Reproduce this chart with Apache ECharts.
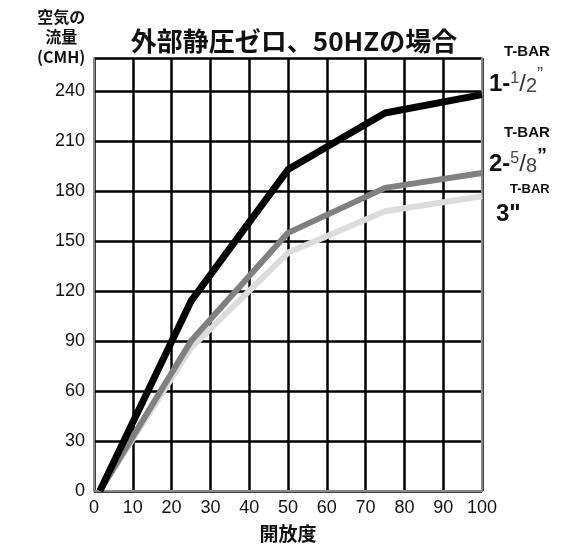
<!DOCTYPE html>
<html>
<head>
<meta charset="utf-8">
<script src="https://cdn.jsdelivr.net/npm/echarts@6/dist/echarts.min.js"></script>
<style>
  html, body { margin: 0; padding: 0; background: #fff; }
  #chart { width: 566px; height: 548px; }
</style>
</head>
<body>
<div id="chart"></div>
<script>
// 開放度 (%)
const openings = [1.5, 25, 50, 75, 100];
// 空気の流量 (CMH)
const flow1 = [0, 114, 193, 227, 238]; // T-BAR 1-1/2"
const flow2 = [0, 90, 155, 182, 191];  // T-BAR 2-5/8"
const flow3 = [0, 86, 143, 168, 177];  // T-BAR 3"
const xTicks = [0, 10, 20, 30, 40, 50, 60, 70, 80, 90, 100];
const yTicks = [0, 30, 60, 90, 120, 150, 180, 210, 240];

const font = "'Liberation Sans', Arial, 'Noto Sans CJK JP', sans-serif";
const cjk = "'Noto Sans CJK JP', 'Liberation Sans', sans-serif";

const pair = (xs, ys) => xs.map((x, i) => [x, ys[i]]);

const myChart = echarts.init(document.getElementById("chart"));
myChart.setOption({
  animation: false,
  title: {
    text: "外部静圧ゼロ、50HZの場合",
    left: 289,
    textAlign: "center",
    top: 23,
    textStyle: { fontFamily: cjk, fontSize: 26, fontWeight: "bold", color: "#111" },
  },
  grid: { left: 94, right: 84, top: 58, bottom: 57, outerBoundsMode: "none", containLabel: false },
  xAxis: {
    type: "value",
    min: 0,
    max: 100,
    interval: 10,
    name: "開放度",
    nameLocation: "middle",
    nameGap: 33,
    nameTextStyle: { fontFamily: cjk, fontSize: 19, fontWeight: "bold", color: "#111" },
    axisLine: { lineStyle: { color: "#888", width: 2 } },
    axisTick: { show: false },
    axisLabel: {
      margin: 8,
      fontFamily: font,
      fontSize: 18,
      color: "#111",
      formatter: (v) => (xTicks.includes(v) ? String(v) : ""),
    },
    splitLine: { lineStyle: { color: "#000", width: 2.5 } },
  },
  yAxis: [
    {
      type: "value",
      min: 0,
      max: 260,
      interval: 30,
      axisLine: { show: true, lineStyle: { color: "#888", width: 2 } },
      axisTick: { show: false },
      axisLabel: {
        margin: 9,
        fontFamily: font,
        fontSize: 18,
        color: "#111",
        formatter: (v) => (yTicks.includes(v) ? String(v) : ""),
      },
      splitLine: { lineStyle: { color: "#000", width: 2.5 } },
    },
    {
      type: "value",
      position: "right",
      min: 0,
      max: 260,
      interval: 30,
      axisLine: { show: true, lineStyle: { color: "#888", width: 2 } },
      axisTick: { show: false },
      axisLabel: { show: false },
      splitLine: { show: false },
    },
  ],
  graphic: [
    {
      type: "text",
      left: 37,
      top: 7,
      style: {
        text: "空気の\n流量\n(CMH)",
        textAlign: "center",
        font: "bold 16px " + cjk,
        lineHeight: 20,
        fill: "#111",
      },
    },
    {
      type: "text",
      left: 504,
      top: 44,
      style: { text: "T-BAR", font: "bold 15px " + font, fill: "#111" },
    },
    {
      type: "text",
      left: 489,
      top: 66,
      style: {
        text: "{a|1-}{s|1}{l|/}{d|2}{q|”}",
        rich: {
          a: { font: "bold 24px " + font, fill: "#111", lineHeight: 30, verticalAlign: "bottom" },
          s: { font: "16px " + font, fill: "#444", lineHeight: 30, verticalAlign: "top", padding: [5, 0, 0, 0] },
          l: { font: "24px " + font, fill: "#333", lineHeight: 30, verticalAlign: "bottom" },
          d: { font: "20px " + font, fill: "#444", lineHeight: 30, verticalAlign: "bottom" },
          q: { font: "18px " + font, fill: "#444", lineHeight: 30, verticalAlign: "top" },
        },
      },
    },
    {
      type: "text",
      left: 504,
      top: 125,
      style: { text: "T-BAR", font: "bold 15px " + font, fill: "#111" },
    },
    {
      type: "text",
      left: 489,
      top: 146,
      style: {
        text: "{a|2-}{s|5}{l|/}{d|8}{q|”}",
        rich: {
          a: { font: "bold 24px " + font, fill: "#111", lineHeight: 30, verticalAlign: "bottom" },
          s: { font: "16px " + font, fill: "#444", lineHeight: 30, verticalAlign: "top", padding: [5, 0, 0, 0] },
          l: { font: "24px " + font, fill: "#333", lineHeight: 30, verticalAlign: "bottom" },
          d: { font: "20px " + font, fill: "#444", lineHeight: 30, verticalAlign: "bottom" },
          q: { font: "bold 20px " + font, fill: "#111", lineHeight: 30, verticalAlign: "top" },
        },
      },
    },
    {
      type: "text",
      left: 510,
      top: 183,
      style: { text: "T-BAR", font: "bold 13px " + font, fill: "#111" },
    },
    {
      type: "text",
      left: 496,
      top: 202,
      style: { text: "3\"", font: "bold 24px " + font, fill: "#111" },
    },
  ],
  series: [
    {
      name: 'T-BAR 3"',
      type: "line",
      data: pair(openings, flow3),
      symbol: "none",
      lineStyle: { color: "#dcdcdc", width: 6 },
    },
    {
      name: 'T-BAR 2-5/8"',
      type: "line",
      data: pair(openings, flow2),
      symbol: "none",
      lineStyle: { color: "#808080", width: 6 },
    },
    {
      name: 'T-BAR 1-1/2"',
      type: "line",
      data: pair(openings, flow1),
      symbol: "none",
      lineStyle: { color: "#000", width: 7 },
    },
  ],
});
</script>
</body>
</html>
